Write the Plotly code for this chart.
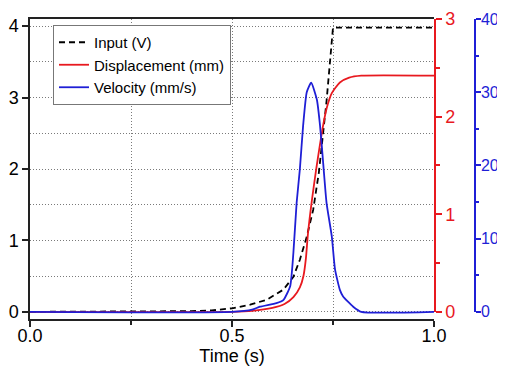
import plotly.graph_objects as go

# ---- data ----
time_input = [0.0, 0.30, 0.40, 0.45, 0.50, 0.545, 0.586, 0.627, 0.652, 0.668, 0.685,
              0.701, 0.715, 0.734, 0.745, 0.750, 0.760, 1.0]
input_v = [0.0, 0.0, 0.01, 0.02, 0.05, 0.10, 0.17, 0.31, 0.49, 0.73, 1.05,
           1.43, 1.95, 2.95, 3.60, 3.98, 3.98, 3.98]

time_disp = [0.0, 0.50, 0.55, 0.60, 0.63, 0.652, 0.668, 0.677, 0.683, 0.688, 0.697,
             0.708, 0.718, 0.726, 0.734, 0.747, 0.767, 0.79, 0.82, 1.0]
disp_mm = [0.0, 0.0, 0.01, 0.04, 0.08, 0.15, 0.25, 0.37, 0.55, 0.80, 1.12,
           1.45, 1.72, 1.92, 2.08, 2.24, 2.35, 2.40, 2.42, 2.42]

time_vel = [0.0, 0.50, 0.55, 0.569, 0.61, 0.627, 0.644, 0.652, 0.66, 0.668, 0.676,
            0.685, 0.696, 0.71, 0.718, 0.725, 0.734, 0.747, 0.755, 0.767, 0.775,
            0.80, 0.82, 1.0]
vel_mms = [0.0, 0.0, 0.3, 0.7, 1.2, 1.6, 3.5, 8.1, 14.9, 19.5, 25.4,
           30.0, 31.3, 29.0, 25.4, 20.8, 14.9, 10.3, 5.8, 3.0, 2.1,
           0.7, 0.0, 0.0]

x_ticks = [0.0, 0.5, 1.0]
left_ticks = [0, 1, 2, 3, 4]
disp_ticks = [0, 1, 2, 3]
vel_ticks = [0, 10, 20, 30, 40]

RED = '#e8191f'
BLUE = '#1f1fd6'
GRID = '#7a7a7a'
AXC = '#222222'
FONT = 'Liberation Sans, Arial, sans-serif'
TF = 18
GDASH = '1px,2px'

left_range = [-0.1, 4.1]
zero_frac = -left_range[0] / (left_range[1] - left_range[0])
disp_range = [left_range[0] * 3 / 4.1, 3]
vel_range = [left_range[0] * 40 / 4.1, 40]

fig = go.Figure()
fig.add_trace(go.Scatter(x=time_input, y=input_v, name='Input (V)', mode='lines',
                         line=dict(color='black', width=1.8, dash='6px,4px')))
fig.add_trace(go.Scatter(x=time_disp, y=disp_mm, name='Displacement (mm)', mode='lines',
                         yaxis='y2', line=dict(color=RED, width=1.8, shape='spline', smoothing=0.6)))
fig.add_trace(go.Scatter(x=time_vel, y=vel_mms, name='Velocity (mm/s)', mode='lines',
                         yaxis='y3', line=dict(color=BLUE, width=1.8, shape='spline', smoothing=0.5)))
# display-only axes (right side), spanning only 0..max like the reference
fig.add_trace(go.Scatter(x=[None], y=[None], xaxis='x2', yaxis='y4', showlegend=False, hoverinfo='skip'))
fig.add_trace(go.Scatter(x=[None], y=[None], xaxis='x2', yaxis='y5', showlegend=False, hoverinfo='skip'))

# page has an 8px body margin: figure coords = page coords - 8
W, H = 497, 360
ML, MT, MB, MR = 22, 11, 49, 30
plot_w = W - ML - MR
xdom = [0, 404 / plot_w]
fig.update_layout(
    width=W, height=H,
    margin=dict(l=ML, r=MR, t=MT, b=MB),
    paper_bgcolor='white', plot_bgcolor='rgba(0,0,0,0)',
    font=dict(family=FONT, size=TF, color='black'),
    showlegend=True,
    legend=dict(x=23 / plot_w, y=(300 - 46) / 300, xanchor='left', yanchor='middle',
                bgcolor='white', bordercolor='#777', borderwidth=1,
                font=dict(size=15)),
    xaxis=dict(domain=xdom, range=[0, 1], tickvals=x_ticks, ticktext=[f'{v:.1f}' for v in x_ticks],
               showline=True, linecolor=AXC, linewidth=1.5, mirror=True, automargin=False,
               ticks='outside', ticklen=6, tickwidth=1.5, tickcolor=AXC, ticklabelstandoff=-6,
               showgrid=True, gridcolor=GRID, griddash=GDASH, gridwidth=1, zeroline=False,
               minor=dict(dtick=0.25, tick0=0, ticks='outside', ticklen=4, tickwidth=1.5,
                          tickcolor=AXC, showgrid=True, gridcolor=GRID, griddash=GDASH),
               title=dict(text='Time (s)', standoff=0, font=dict(size=TF))),
    xaxis2=dict(domain=xdom, range=[0, 1], visible=False, matches='x'),
    yaxis=dict(range=left_range, tickvals=left_ticks, showline=True, linecolor=AXC, linewidth=1.5,
               ticks='outside', ticklen=6, tickwidth=1.5, tickcolor=AXC, automargin=False,
               ticklabelstandoff=0,
               showgrid=True, gridcolor=GRID, griddash=GDASH, gridwidth=1, zeroline=False,
               minor=dict(dtick=0.5, tick0=0, showgrid=True, gridcolor=GRID, griddash=GDASH, ticks=''),
               ),
    yaxis2=dict(range=disp_range, overlaying='y', visible=False),
    yaxis3=dict(range=vel_range, overlaying='y', visible=False),
    yaxis4=dict(domain=[zero_frac, 1], anchor='x2', side='right', range=[0, 3], tickvals=disp_ticks,
                showline=True, linecolor=RED, linewidth=1.5, ticks='outside', ticklen=6, tickwidth=1.5,
                tickcolor=RED, tickfont=dict(color=RED, size=TF), showgrid=False, zeroline=False,
                automargin=False, ticklabelstandoff=0,
                minor=dict(dtick=0.5, tick0=0, ticks='outside', ticklen=4, tickwidth=1.5, tickcolor=RED)),
    yaxis5=dict(domain=[zero_frac, 1], anchor='free', position=1.0, side='right', range=[0, 40],
                tickvals=vel_ticks, showline=True, linecolor=BLUE, linewidth=1.5, ticks='outside',
                ticklen=5, tickwidth=1.5, tickcolor=BLUE, tickfont=dict(color=BLUE, size=16),
                showgrid=False, zeroline=False, automargin=False, ticklabelstandoff=-3,
                minor=dict(dtick=5, tick0=0, ticks='outside', ticklen=3, tickwidth=1.5, tickcolor=BLUE)),
)

fig.write_html('out.html')
